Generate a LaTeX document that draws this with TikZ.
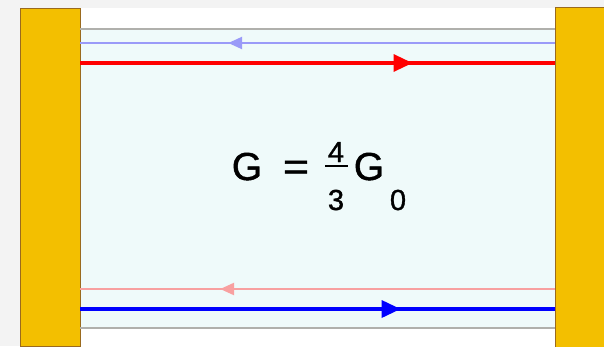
\documentclass[tikz,border=0pt]{standalone}
\usepackage{fontspec}
\setmainfont{Liberation Sans}
\newfontfamily\heavy{Liberation Sans}[FakeBold=1.2]
\usetikzlibrary{arrows.meta,decorations.markings}
\definecolor{gold}{HTML}{F3BF00}
\definecolor{goldedge}{HTML}{9A6A1E}
\definecolor{lightblue}{HTML}{9A9AF8}
\definecolor{lightred}{HTML}{F8A0A0}
\definecolor{greyline}{HTML}{B0B0AC}
\definecolor{chanbg}{HTML}{EFFAFA}
\definecolor{pagebg}{HTML}{F3F3F3}
\begin{document}
\begin{tikzpicture}[x=1pt,y=-1pt,
  bar/.style={draw=goldedge,line width=0.8pt,fill=gold,inner sep=0pt},
  edgeline/.style={greyline,line width=1.4pt},
  strong/.style={line width=3.4pt},
  faint/.style={line width=2.4pt},
  tipmark/.style={postaction={decorate},decoration={markings,
     mark=at position #1 with {\arrow{Triangle[length=19pt,width=17pt]}}}},
  faintmark/.style={postaction={decorate},decoration={markings,
     mark=at position #1 with {\arrow{Triangle[length=14pt,width=12pt]}}}},
  big/.style={font=\heavy\fontsize{39}{40}\selectfont,inner sep=0pt,anchor=base},
  small/.style={font=\heavy\fontsize{29}{30}\selectfont,inner sep=0pt,anchor=base}]
\useasboundingbox (0,0) rectangle (604,346);
\fill[pagebg] (0,0) rectangle (604,346);
\fill[white] (80,8) rectangle (555,346);
\fill[chanbg] (80,30) rectangle (555,327);
\node[bar,minimum width=60pt,minimum height=338pt] (lbar) at (50,177) {};
\node[bar,minimum width=52pt,minimum height=340pt] (rbar) at (581,177) {};
% edge lines
\coordinate (tl) at (80,29);  \coordinate (tr) at (555,29);
\coordinate (bl) at (80,328); \coordinate (br) at (555,328);
\draw[edgeline] (tl) -- (tr);
\draw[edgeline] (bl) -- (br);
% top channels
\coordinate (a1) at (555,43); \coordinate (a2) at (80,43);
\draw[lightblue,faint,faintmark=0.688] (a1) -- (a2);
\coordinate (b1) at (80,63); \coordinate (b2) at (555,63);
\draw[red,strong,tipmark=0.70] (b1) -- (b2);
% bottom channels
\coordinate (c1) at (555,289); \coordinate (c2) at (80,289);
\draw[lightred,faint,faintmark=0.705] (c1) -- (c2);
\coordinate (d1) at (80,309); \coordinate (d2) at (555,309);
\draw[blue,strong,tipmark=0.675] (d1) -- (d2);
% formula
\node[big] (g) at (247,180) {G};
\node[big,xscale=1.15] (eq) at (296,180) {=};
\node[small] (num) at (336,162) {4};
\draw[line width=2pt] (325,166) coordinate (fl) -- (348,166) coordinate (fr);
\node[small] (den) at (336,210) {3};
\node[big] (g0) at (369,180) {G};
\node[small] (sub) at (398,210) {0};
\end{tikzpicture}
\end{document}
